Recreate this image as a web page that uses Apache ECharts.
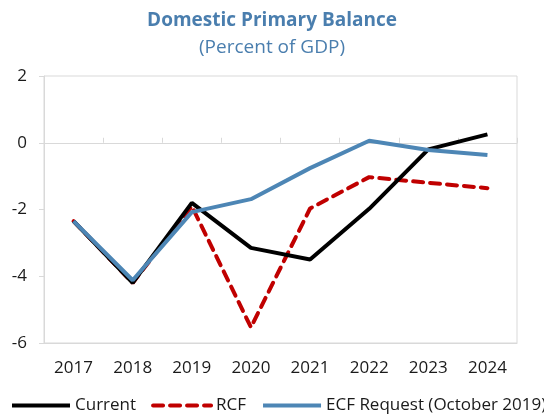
<!DOCTYPE html>
<html><head><meta charset="utf-8">
<script src="https://cdn.jsdelivr.net/npm/echarts@6/dist/echarts.min.js"></script>
<style>html,body{margin:0;padding:0;background:#fff}#c{width:544px;height:416px}</style>
</head><body><div id="c"></div>
<script>
const years = ['2017','2018','2019','2020','2021','2022','2023','2024'];
const current = [-2.35, -4.2, -1.8, -3.15, -3.5, -1.98, -0.2, 0.25];
const rcf = [-2.35, -4.2, -1.9, -5.53, -1.97, -1.03, -1.2, -1.36];
const ecf = [-2.35, -4.12, -2.08, -1.69, -0.76, 0.06, -0.22, -0.37];
const yTicks = [-6, -4, -2, 0, 2];
const FONT = '"Open Sans", "Noto Sans", sans-serif';
const chart = echarts.init(document.getElementById('c'));
chart.setOption({
  animation: false,
  title: [
    {text: 'Domestic Primary Balance', left: 'center', top: 6,
     textStyle: {fontFamily: FONT, fontSize: 19, fontWeight: 'bold', color: '#4a7eae'}},
    {text: '(Percent of GDP)', left: 'center', top: 33,
     textStyle: {fontFamily: FONT, fontSize: 19, fontWeight: 'normal', color: '#4a7eae'}}
  ],
  grid: {left: 44, right: 27, top: 76, bottom: 73, show: true, borderColor: '#d9d9d9', borderWidth: 1},
  legend: {
    bottom: 2, left: 10, width: 600, padding: 0, itemGap: 15, itemWidth: 58, itemHeight: 12,
    textStyle: {fontFamily: FONT, fontSize: 17, color: '#1a1a1a'},
    lineStyle: {width: 4},
    itemStyle: {opacity: 0},
    data: ['Current', 'RCF', 'ECF Request (October 2019)']
  },
  xAxis: [
    {type: 'category', data: years, boundaryGap: true,
     axisLine: {onZero: false, lineStyle: {color: '#d9d9d9'}},
     axisTick: {show: false},
     axisLabel: {fontFamily: FONT, fontSize: 17, color: '#1a1a1a', margin: 17}},
    {type: 'category', data: years, boundaryGap: true, position: 'bottom',
     axisLine: {onZero: true, lineStyle: {color: '#d9d9d9'}},
     axisTick: {show: true, inside: true, length: 5, lineStyle: {color: '#d9d9d9'}},
     axisLabel: {show: false}}
  ],
  yAxis: {
    type: 'value', min: yTicks[0], max: yTicks[yTicks.length - 1], interval: 2,
    axisLine: {show: true, lineStyle: {color: '#d9d9d9'}},
    axisTick: {show: true, length: 5, lineStyle: {color: '#d9d9d9'}},
    splitLine: {show: false},
    axisLabel: {fontFamily: FONT, fontSize: 17, color: '#1a1a1a', margin: 17}
  },
  series: [
    {name: 'Current', type: 'line', data: current, showSymbol: false, symbol: 'none', z: 3,
     lineStyle: {color: '#000000', width: 4}, itemStyle: {color: '#000000'}},
    {name: 'RCF', type: 'line', data: rcf, showSymbol: false, symbol: 'none', z: 2,
     lineStyle: {color: '#c00000', width: 4, type: [10, 7], cap: 'round'}, itemStyle: {color: '#c00000'}},
    {name: 'ECF Request (October 2019)', type: 'line', data: ecf, showSymbol: false, symbol: 'none', z: 4,
     lineStyle: {color: '#4d86b5', width: 4}, itemStyle: {color: '#4d86b5'}}
  ]
});
</script></body></html>
